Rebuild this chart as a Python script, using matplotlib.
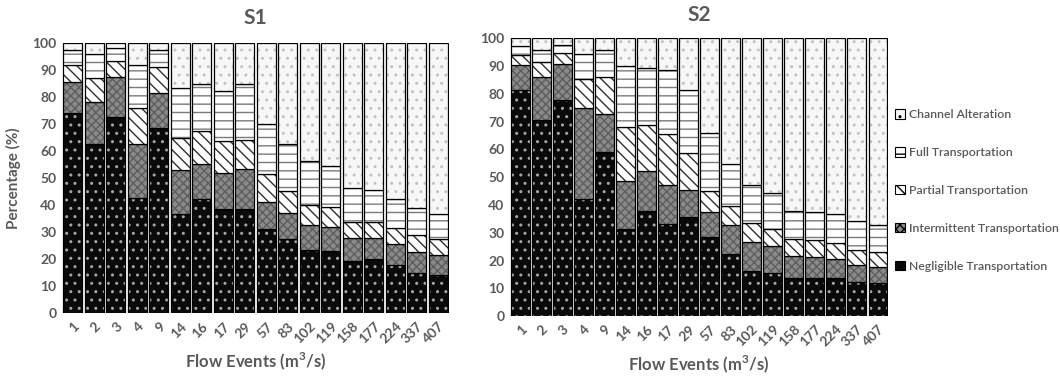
import numpy as np
import matplotlib
matplotlib.use("Agg")
import matplotlib.pyplot as plt
from matplotlib.patches import Patch

# === Data (percent of each class per flow event) ===
flow_events = ["1", "2", "3", "4", "9", "14", "16", "17", "29", "57",
               "83", "102", "119", "158", "177", "224", "337", "407"]

s1_negligible = [74.0, 62.6, 72.7, 42.7, 68.4, 36.9, 42.2, 38.5, 38.5, 31.1,
                 27.5, 23.4, 23.0, 19.5, 20.1, 17.9, 15.0, 14.0]
s1_intermittent = [11.7, 15.7, 14.6, 20.1, 13.0, 16.1, 13.0, 13.5, 14.7, 10.2,
                   9.5, 9.4, 9.0, 8.3, 7.7, 7.6, 7.6, 7.5]
s1_partial = [6.3, 8.9, 6.0, 13.0, 9.8, 12.0, 12.2, 11.7, 10.9, 10.3,
              8.3, 7.1, 7.2, 6.0, 5.8, 6.2, 6.3, 5.9]
s1_full = [5.6, 8.6, 4.7, 16.1, 6.2, 18.2, 17.4, 18.5, 20.7, 18.4,
           17.3, 16.3, 15.4, 12.5, 11.9, 10.5, 10.2, 9.2]
s1_channel = [2.4, 4.2, 2.0, 8.1, 2.6, 16.8, 15.2, 17.8, 15.2, 30.0,
              37.4, 43.8, 45.4, 53.7, 54.5, 57.8, 60.9, 63.4]

s2_negligible = [81.5, 70.7, 77.9, 42.2, 59.1, 31.5, 37.7, 33.3, 35.7, 28.5,
                 22.5, 16.1, 15.4, 13.6, 13.6, 13.6, 12.3, 11.9]
s2_intermittent = [9.0, 15.3, 12.8, 32.7, 13.6, 17.0, 14.4, 13.8, 9.8, 9.0,
                   10.2, 10.6, 9.7, 7.9, 7.7, 7.0, 6.1, 5.8]
s2_partial = [3.3, 5.4, 4.0, 10.5, 13.3, 19.6, 16.5, 18.4, 13.2, 7.4,
              7.1, 6.8, 6.3, 6.3, 6.0, 5.7, 5.3, 5.3]
s2_full = [3.5, 4.2, 2.7, 8.9, 9.9, 22.0, 20.7, 22.9, 22.5, 21.0,
           15.1, 13.6, 12.9, 10.2, 10.0, 10.5, 10.5, 9.8]
s2_channel = [2.7, 4.4, 2.6, 5.7, 4.1, 9.9, 10.7, 11.6, 18.8, 34.1,
              45.1, 52.9, 55.7, 62.0, 62.7, 63.2, 65.8, 67.2]

class_names = ["Negligible Transportation", "Intermittent Transportation",
               "Partial Transportation", "Full Transportation", "Channel Alteration"]

# (facecolor, hatch, hatch colour)
styles = [
    ("#0a0a0a", "..", "#a6a6a6"),
    ("#8a8a8a", "xxxx", "#5e5e5e"),
    ("#ffffff", "\\\\\\", "#303030"),
    ("#ffffff", "--", "#7a7a7a"),
    ("#f7f7f7", "..", "#c4c4c4"),
]

TXT = "#595959"
plt.rcParams['font.family'] = ['Lato', 'DejaVu Sans']
plt.rcParams['hatch.linewidth'] = 1.0


def stacked(ax, series):
    x = np.arange(len(flow_events))
    bottom = np.zeros(len(flow_events))
    for vals, (fc, hatch, hc) in zip(series, styles):
        vals = np.array(vals)
        ax.bar(x, vals, bottom=bottom, width=0.88, color=fc, edgecolor=hc,
               hatch=hatch, linewidth=0)
        ax.bar(x, vals, bottom=bottom, width=0.88, fill=False,
               edgecolor="black", linewidth=0.9)
        bottom += vals
    ax.set_xlim(-0.5, len(flow_events) - 0.5)
    ax.set_ylim(0, 100)
    ax.set_yticks(range(0, 101, 10))
    ax.set_xticks(x)
    ax.set_xticklabels(flow_events, rotation=45, ha="right",
                       rotation_mode="anchor")
    for s in ax.spines.values():
        s.set_visible(False)
    ax.tick_params(length=0, labelsize=10, colors=TXT, pad=4)
    ax.tick_params(axis="x", pad=5)
    for lab in ax.get_xticklabels() + ax.get_yticklabels():
        lab.set_fontweight("bold")
    ax.set_xlabel("Flow Events (m$^\\mathregular{3}$/s)", fontsize=12,
                  fontweight="bold", color=TXT, labelpad=3)


# === Figure ===
fig = plt.figure(figsize=(10.6, 3.81), dpi=100)
ax1 = fig.add_axes([0.0585, 0.178, 0.365, 0.709])
ax2 = fig.add_axes([0.481, 0.170, 0.357, 0.730])

stacked(ax1, [s1_negligible, s1_intermittent, s1_partial, s1_full, s1_channel])
stacked(ax2, [s2_negligible, s2_intermittent, s2_partial, s2_full, s2_channel])

ax1.set_title("S1", fontsize=15, fontweight="bold", color=TXT, pad=14)
ax2.set_title("S2", fontsize=15, fontweight="bold", color=TXT, pad=12)
ax1.set_ylabel("Percentage (%)", fontsize=11, fontweight="bold", color=TXT,
               labelpad=8)

# === Legend ===
handles = [Patch(facecolor=fc, edgecolor="black", hatch=h, linewidth=0.8)
           for fc, h, _ in styles]
leg = fig.legend(handles[::-1], class_names[::-1], loc="center left",
                 bbox_to_anchor=(0.840, 0.50), frameon=False, fontsize=8.8,
                 handlelength=0.8, handleheight=0.8, handletextpad=0.3,
                 labelspacing=2.2, borderaxespad=0)
for t in leg.get_texts():
    t.set_color(TXT)
    t.set_fontweight("semibold")

fig.savefig("out.png", dpi=100)
